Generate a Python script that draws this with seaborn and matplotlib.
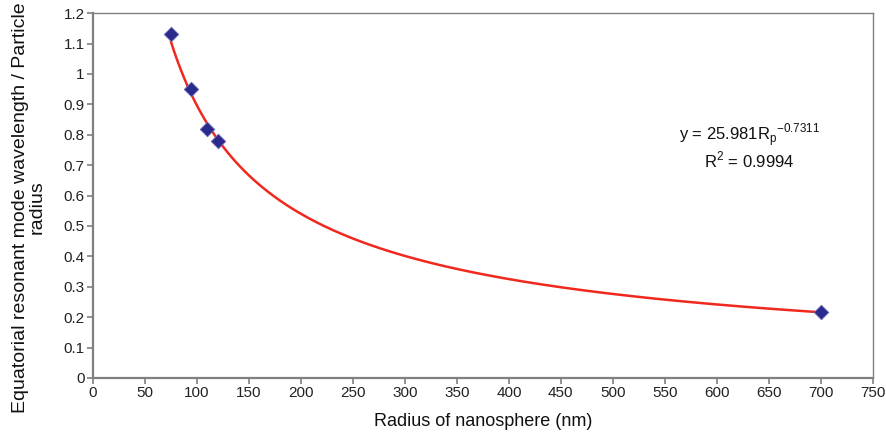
import numpy as np
import matplotlib
matplotlib.use("Agg")
import matplotlib.pyplot as plt
import seaborn as sns
import pandas as pd

# Data
radius_nm = [75, 94, 110, 120, 700]
ratio = [1.13, 0.95, 0.82, 0.78, 0.217]

# Power-law trendline coefficients shown on the chart
fit_a = 25.981
fit_b = -0.7311
fit_r2 = 0.9994

x_ticks = list(range(0, 751, 50))
y_ticks = [0, 0.1, 0.2, 0.3, 0.4, 0.5, 0.6, 0.7, 0.8, 0.9, 1, 1.1, 1.2]
y_tick_labels = ["0", "0.1", "0.2", "0.3", "0.4", "0.5", "0.6", "0.7", "0.8", "0.9", "1", "1.1", "1.2"]

sns.set_style("white")
plt.rcParams['font.family'] = ['Liberation Sans', 'DejaVu Sans']
plt.rcParams['mathtext.fontset'] = 'custom'
plt.rcParams['mathtext.rm'] = 'Liberation Sans'

fig = plt.figure(figsize=(8.87, 4.38), dpi=100)
ax = fig.add_axes([0.1048, 0.137, 0.8792, 0.833])

xs = np.linspace(min(radius_nm), max(radius_nm), 400)
fit_df = pd.DataFrame({"x": xs, "y": fit_a * xs ** fit_b})
sns.lineplot(data=fit_df, x="x", y="y", ax=ax, color="#f0281e", linewidth=1.8, zorder=2)

pts = pd.DataFrame({"x": radius_nm, "y": ratio})
sns.scatterplot(data=pts, x="x", y="y", ax=ax, marker="D", s=55, color="#2a2a8c",
                edgecolor="#6a6ab8", linewidth=0.6, zorder=3)

ax.set_xlim(0, 750)
ax.set_ylim(0, 1.2)
ax.set_xticks(x_ticks)
ax.set_xticklabels([str(v) for v in x_ticks])
ax.set_yticks(y_ticks)
ax.set_yticklabels(y_tick_labels)

for s in ["left", "bottom"]:
    ax.spines[s].set_color("#808080")
    ax.spines[s].set_linewidth(1.6)
for s in ["top", "right"]:
    ax.spines[s].set_color("#808080")
    ax.spines[s].set_linewidth(1.0)

ax.tick_params(axis="both", which="major", direction="out", length=4, width=1.2,
               color="#808080", labelsize=11, labelcolor="#222222", pad=2,
               bottom=True, left=True)

ax.set_xlabel("Radius of nanosphere (nm)", fontsize=13, labelpad=9, color="#111111")
ax.set_ylabel("Equatorial resonant mode wavelength / Particle\nradius", fontsize=14,
              color="#111111", linespacing=0.95)
ax.yaxis.set_label_coords(-0.061, 0.468)

ax.text(0.842, 0.666, r"y = 25.981R$_\mathregular{p}$$^{\mathregular{-0.7311}}$",
        transform=ax.transAxes, ha="center", va="center", fontsize=12, color="#111111")
ax.text(0.842, 0.598, r"R$^\mathregular{2}$ = 0.9994",
        transform=ax.transAxes, ha="center", va="center", fontsize=12, color="#111111")

fig.savefig("out.png", dpi=100)
